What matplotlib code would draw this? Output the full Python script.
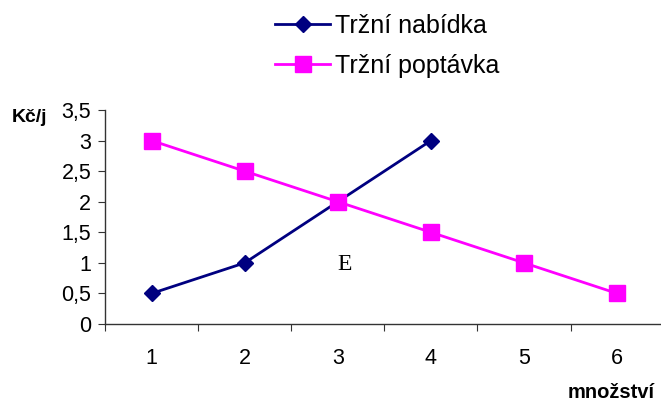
import matplotlib
matplotlib.use("Agg")
import matplotlib.pyplot as plt
from matplotlib.ticker import FixedLocator, FixedFormatter

plt.rcParams['font.family'] = ['Liberation Sans', 'DejaVu Sans']

categories = [1, 2, 3, 4, 5, 6]
supply_x = [1, 2, 3, 4]
supply_y = [0.5, 1.0, 2.0, 3.0]
demand_x = [1, 2, 3, 4, 5, 6]
demand_y = [3.0, 2.5, 2.0, 1.5, 1.0, 0.5]
y_ticks = [0, 0.5, 1, 1.5, 2, 2.5, 3, 3.5]
y_labels = ['0', '0,5', '1', '1,5', '2', '2,5', '3', '3,5']

fig = plt.figure(figsize=(6.61, 4.03), dpi=100)
ax = fig.add_axes([0.159, 0.196, 0.845, 0.531])

l1, = ax.plot(supply_x, supply_y, color='#000080', lw=2.0, marker='D', markersize=8,
              label='Tržní nabídka', clip_on=False)
l2, = ax.plot(demand_x, demand_y, color='#FF00FF', lw=2.0, marker='s', markersize=11,
              label='Tržní poptávka', clip_on=False)

ax.set_xlim(0.5, 6.5)
ax.set_ylim(0, 3.5)
ax.xaxis.set_major_locator(FixedLocator([c - 0.5 for c in categories] + [6.5]))
ax.xaxis.set_major_formatter(FixedFormatter([''] * 7))
ax.xaxis.set_minor_locator(FixedLocator(categories))
ax.xaxis.set_minor_formatter(FixedFormatter([str(c) for c in categories]))
ax.tick_params(axis='x', which='minor', length=0, pad=17, labelsize=15.5)
ax.tick_params(axis='x', which='major', length=5, direction='out', color='#333333')
ax.set_yticks(y_ticks)
ax.set_yticklabels(y_labels)
ax.tick_params(axis='y', length=5, direction='out', labelsize=15.5, pad=5, color='#333333')

for s in ['top', 'right']:
    ax.spines[s].set_visible(False)
for s in ['left', 'bottom']:
    ax.spines[s].set_color('#333333')
    ax.spines[s].set_linewidth(1.0)

ax.text(3.07, 0.98, 'E', family='Liberation Serif', fontsize=17, ha='center', va='center')
fig.text(12 / 661, 1 - 118 / 403, 'Kč/j', fontweight='bold', fontsize=14, ha='left', va='center')
fig.text(655 / 661, 1 - 392 / 403, 'množství', fontweight='bold', fontsize=14.5, ha='right', va='center')

fig.legend(handles=[l1, l2], loc='upper left', bbox_to_anchor=(270 / 661, 1 - 9 / 403),
           frameon=False, fontsize=18, handlelength=2.2, labelspacing=0.63,
           handletextpad=0.2, borderaxespad=0.0, borderpad=0.2)

fig.savefig('out.png', dpi=100)
